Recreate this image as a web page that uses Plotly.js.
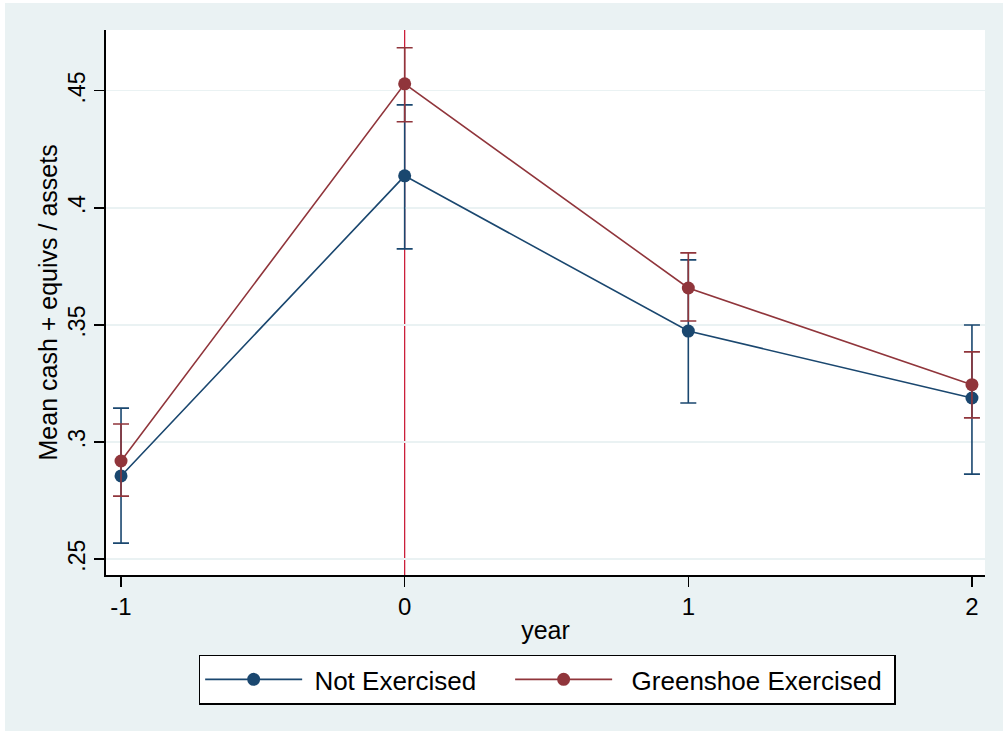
<!DOCTYPE html>
<html>
<head>
<meta charset="utf-8">
<script src="https://cdn.plot.ly/plotly-3.0.1.min.js"></script>
<style>
html,body{margin:0;padding:0;background:#ffffff;}
#chart{position:absolute;left:5px;top:3px;width:998px;height:728px;}
</style>
</head>
<body>
<div id="chart"></div>
<script>
var years = [-1, 0, 1, 2];
var notExercisedMean = [0.2855, 0.4137, 0.3474, 0.3188];
var notExercisedUpper = [0.3145, 0.4440, 0.3778, 0.3500];
var notExercisedLower = [0.2568, 0.3825, 0.3167, 0.2863];
var greenshoeMean = [0.2919, 0.4530, 0.3658, 0.3245];
var greenshoeUpper = [0.3077, 0.4684, 0.3808, 0.3385];
var greenshoeLower = [0.2769, 0.4368, 0.3517, 0.3103];
var seriesNames = ['Not Exercised', 'Greenshoe Exercised'];
var yTicks = [0.25, 0.3, 0.35, 0.4, 0.45];
var yTickLabels = ['.25', '.3', '.35', '.4', '.45'];
var xTicks = [-1, 0, 1, 2];
var xTickLabels = ['-1', '0', '1', '2'];
var xTitle = 'year';
var yTitle = 'Mean cash + equivs / assets';

function diff(a, b) { return a.map(function (v, i) { return v - b[i]; }); }

var blue = '#1A476F', red = '#90353B';
var fam = 'Liberation Sans, Arial, sans-serif';
var NB = '\u00a0';

var traces = [
  {
    x: years, y: notExercisedMean, type: 'scatter', mode: 'lines+markers',
    name: NB + seriesNames[0] + NB + NB + NB + NB,
    line: {color: blue, width: 1.6},
    marker: {color: blue, size: 13},
    error_y: {type: 'data', symmetric: false,
      array: diff(notExercisedUpper, notExercisedMean),
      arrayminus: diff(notExercisedMean, notExercisedLower),
      color: blue, thickness: 1.6, width: 8}
  },
  {
    x: years, y: greenshoeMean, type: 'scatter', mode: 'lines+markers',
    name: NB + NB + seriesNames[1] + NB,
    line: {color: red, width: 1.6},
    marker: {color: red, size: 13},
    error_y: {type: 'data', symmetric: false,
      array: diff(greenshoeUpper, greenshoeMean),
      arrayminus: diff(greenshoeMean, greenshoeLower),
      color: red, thickness: 1.6, width: 8}
  }
];

var layout = {
  width: 998, height: 728,
  paper_bgcolor: '#EAF2F3',
  plot_bgcolor: '#FFFFFF',
  margin: {l: 101, r: 18, t: 27, b: 156},
  font: {family: fam, color: '#000000', size: 24},
  showlegend: true,
  legend: {
    orientation: 'h', x: 0.502, xanchor: 'center', y: -0.146, yanchor: 'top',
    bgcolor: '#FFFFFF', bordercolor: '#000000', borderwidth: 1.4,
    font: {size: 26}, itemwidth: 97
  },
  xaxis: {
    range: [-1.053, 2.046],
    tickvals: xTicks, ticktext: xTickLabels,
    ticks: 'outside', ticklen: 10, tickwidth: 1.2, tickcolor: '#000',
    showgrid: false, zeroline: false,
    showline: true, linecolor: '#000', linewidth: 1.6,
    title: {text: xTitle, font: {size: 25}, standoff: 2},
    tickfont: {size: 24}
  },
  yaxis: {
    range: [0.2432, 0.476],
    tickvals: yTicks, ticktext: yTickLabels,
    tickangle: -90,
    ticks: 'outside', ticklen: 10, tickwidth: 1.2, tickcolor: '#000',
    showgrid: true, gridcolor: '#EAF2F3', gridwidth: 1.2,
    zeroline: false,
    showline: true, linecolor: '#000', linewidth: 1.6,
    tickfont: {size: 23}
  },
  annotations: [
    {text: yTitle, xref: 'paper', yref: 'paper', x: 0, y: 0.5,
     xanchor: 'center', yanchor: 'middle', xshift: -59, textangle: -90,
     showarrow: false, font: {size: 25, color: '#000'}}
  ],
  shapes: [
    {type: 'line', xref: 'x', yref: 'paper', x0: 0, x1: 0, y0: 0, y1: 1,
     line: {color: '#C8102E', width: 1.2}, layer: 'below'}
  ]
};

Plotly.newPlot('chart', traces, layout, {displayModeBar: false, staticPlot: true});
</script>
</body>
</html>
